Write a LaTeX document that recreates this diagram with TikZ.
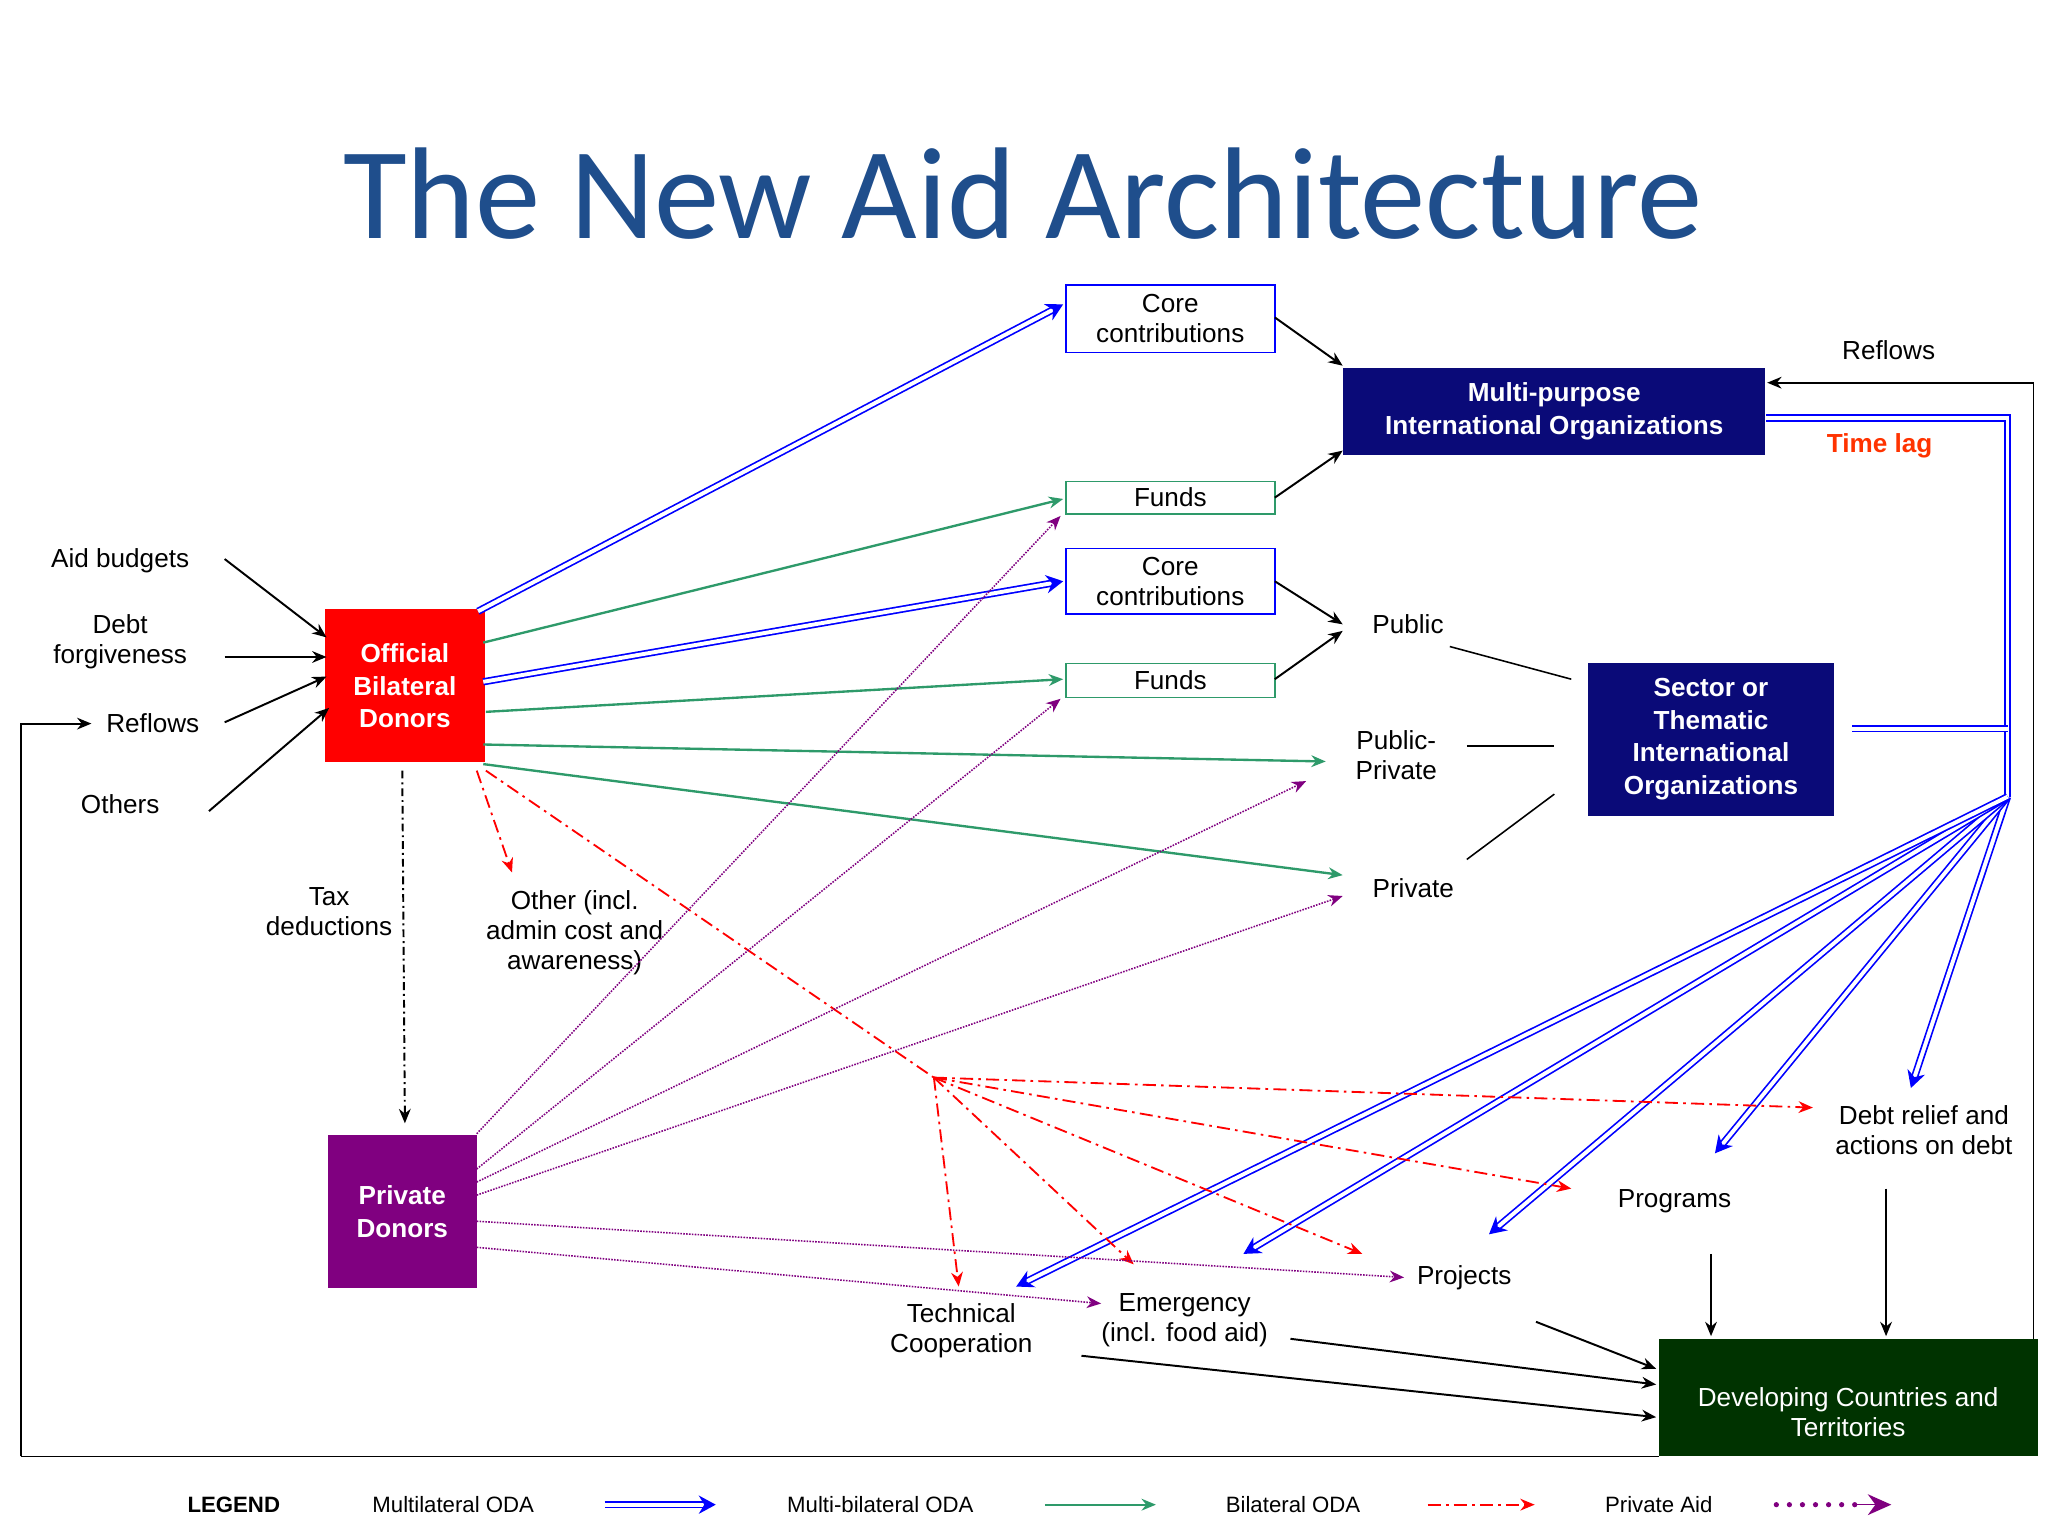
\documentclass[tikz,border=0pt]{standalone}
\usepackage{fontspec}
\setmainfont{Liberation Sans}
\newfontfamily\titlefont{Carlito}
\usetikzlibrary{arrows.meta}
\definecolor{navy}{HTML}{0A0A78}
\definecolor{titleblue}{HTML}{1F4E8C}
\definecolor{dgreen}{HTML}{003300}
\definecolor{pgreen}{HTML}{2E9A6A}
\definecolor{purp}{HTML}{800080}
\definecolor{lagred}{HTML}{FF3300}
\tikzset{
 x=1pt,y=-1pt,
 txt/.style={font=\fontsize{20}{23}\selectfont,align=center,inner sep=1pt},
 wbox/.style={txt,draw,line width=1.2pt,minimum width=160pt},
 dbox/.style={font=\fontsize{20}{25}\selectfont\bfseries,text=white,align=center,inner sep=2pt},
 tip/.style={-{Stealth[length=11pt,width=9pt]}},
 multi/.style={draw=blue,double=white,double distance=3pt,line width=1.3pt,-{Stealth[length=13pt,width=14pt]}},
 bil/.style={draw=pgreen,line width=1.8pt,tip},
 red/.style={draw=red,line width=1.4pt,dash pattern=on 10pt off 4pt on 2pt off 4pt,tip},
 pa/.style={draw=purp,line width=1.2pt,densely dotted,tip},
 blk/.style={draw=black,line width=1.5pt,tip},
 pl/.style={draw=black,line width=1.2pt},
}
\begin{document}
\begin{tikzpicture}
\useasboundingbox[fill=white] (0,0) rectangle (1568,1176);
\node[text=titleblue,font=\titlefont\fontsize{100}{110}\selectfont] (title) at (783,148) {The New Aid Architecture};
% boxes
\node[wbox,draw=blue,minimum height=52pt] (core1) at (896,244) {Core\\contributions};
\node[wbox,draw=pgreen,minimum height=25pt] (funds1) at (896,381) {Funds};
\node[wbox,draw=blue,minimum height=50pt] (core2) at (896,445) {Core\\contributions};
\node[wbox,draw=pgreen,minimum height=26pt] (funds2) at (896,521) {Funds};
\node[dbox,fill=navy,minimum width=323pt,minimum height=66pt] (mpio) at (1190,315) {Multi-purpose\\International Organizations};
\node[dbox,fill=navy,minimum width=188pt,minimum height=117pt] (stio) at (1310,566) {Sector or\\Thematic\\International\\Organizations};
\node[dbox,fill=red,minimum width=122pt,minimum height=117pt] (obd) at (310,525) {Official\\Bilateral\\Donors};
\node[dbox,fill=purp,minimum width=114pt,minimum height=117pt,anchor=north] (pd) at (308,869) {Private\\Donors};
\node[fill=dgreen,text=white,txt,minimum width=290pt,minimum height=90pt] (dc) at (1415,1070) {\\[14pt]Developing Countries and\\Territories};
% texts
\node[txt] (pub) at (1078,478) {Public};
\node[txt] (pp) at (1069,578) {Public-\\Private};
\node[txt] (priv) at (1082,680) {Private};
\node[txt] (debt) at (1473,865) {Debt relief and\\actions on debt};
\node[txt] (prog) at (1282,920) {Programs};
\node[txt] (proj) at (1121,978) {Projects};
\node[txt] (emer) at (907,1011) {Emergency\\(incl. food aid)};
\node[txt] (tc) at (736,1019) {Technical\\Cooperation};
\node[txt] (aid) at (92,429) {Aid budgets};
\node[txt] (df) at (92,491) {Debt\\forgiveness};
\node[txt] (refl) at (117,554) {Reflows};
\node[txt] (oth) at (92,616) {Others};
\node[txt] (tax) at (252,698) {Tax\\deductions};
\node[txt] (other) at (440,714) {Other (incl.\\admin cost and\\awareness)};
\node[txt] (refl2) at (1446,268) {Reflows};
\node[txt,text=lagred,font=\fontsize{20}{23}\selectfont\bfseries] (lag) at (1439,341) {Time lag};
% coordinates
\coordinate (hub) at (1537,610);
\coordinate (rh) at (715,825);
% multilateral
\draw[multi] (366,468) -- (814,233);
\draw[multi] (370,522) -- (814,445);
\draw[draw=blue,double=white,double distance=3pt,line width=1.3pt] (1352,320) -- (1537,320) -- (hub);
\draw[draw=blue,double=white,double distance=3pt,line width=1.3pt] (1418,558) -- (1537,558);
\draw[multi] (hub) -- (1463,833);
\draw[multi] (hub) -- (1313,883);
\draw[multi] (hub) -- (1140,945);
\draw[multi] (hub) -- (952,960);
\draw[multi] (hub) -- (778,985);
% bilateral (green)
\draw[bil] (370,492) -- (814,382);
\draw[bil] (372,545) -- (814,520);
\draw[bil] (370,570) -- (1015,583);
\draw[bil] (370,585) -- (1028,670);
% black
\draw[blk] (976,243) -- (1028,280);
\draw[blk] (976,381) -- (1028,345);
\draw[blk] (976,445) -- (1028,478);
\draw[blk] (976,520) -- (1028,483);
\draw[pl] (1110,495) -- (1203,520);
\draw[pl] (1123,571) -- (1190,571);
\draw[pl] (1123,658) -- (1190,608);
\draw[blk] (172,428) -- (250,488);
\draw[blk] (172,503) -- (250,503);
\draw[blk] (172,553) -- (250,518);
\draw[blk] (160,621) -- (252,542);
\draw[blk] (1557,293) -- (1353,293);
\draw[pl] (1557,293) -- (1557,1025);
\draw[pl] (16,1115) -- (1270,1115);
\draw[blk] (16,1115) -- (16,554) -- (70,554);
\draw[blk,dash pattern=on 6pt off 3pt on 1.5pt off 3pt] (308,590) -- (310,860);
\draw[blk] (1310,960) -- (1310,1023);
\draw[blk] (1444,910) -- (1444,1023);
\draw[blk] (1176,1012) -- (1268,1048);
\draw[blk] (988,1025) -- (1268,1060);
\draw[blk] (828,1038) -- (1268,1085);
% red
\draw[red] (365,590) -- (392,668);
\draw[red,-] (372,590) -- (rh);
\draw[red] (rh) -- (1388,848);
\draw[red] (rh) -- (1203,910);
\draw[red] (rh) -- (1043,960);
\draw[red] (rh) -- (868,968);
\draw[red] (rh) -- (734,985);
% purple
\draw[pa] (365,868) -- (812,395);
\draw[pa] (365,895) -- (812,535);
\draw[pa] (365,905) -- (1000,598);
\draw[pa] (365,915) -- (1028,686);
\draw[pa] (365,935) -- (1075,978);
\draw[pa] (365,955) -- (843,998);
% legend
\node[font=\fontsize{17}{20}\selectfont\bfseries] (leg) at (179,1152) {LEGEND};
\node[font=\fontsize{17}{20}\selectfont] (l1) at (347,1152) {Multilateral ODA};
\node[font=\fontsize{17}{20}\selectfont] (l2) at (674,1152) {Multi-bilateral ODA};
\node[font=\fontsize{17}{20}\selectfont] (l3) at (990,1152) {Bilateral ODA};
\node[font=\fontsize{17}{20}\selectfont] (l4) at (1270,1152) {Private Aid};
\coordinate (a1) at (463,1152); \coordinate (b1) at (548,1152);
\coordinate (a2) at (800,1152); \coordinate (b2) at (885,1152);
\coordinate (a3) at (1093,1152); \coordinate (b3) at (1175,1152);
\coordinate (a4) at (1360,1152); \coordinate (b4) at (1448,1152);
\draw[multi] (a1) -- (b1);
\draw[bil] (a2) -- (b2);
\draw[red] (a3) -- (b3);
\draw[draw=purp,line width=4pt,dash pattern=on 0pt off 10pt,line cap=round] (a4) -- (1425,1152);
\draw[draw=purp,line width=1pt,-{Stealth[length=18pt,width=16pt]},fill=purp] (1420,1152) -- (b4);
\end{tikzpicture}
\end{document}
